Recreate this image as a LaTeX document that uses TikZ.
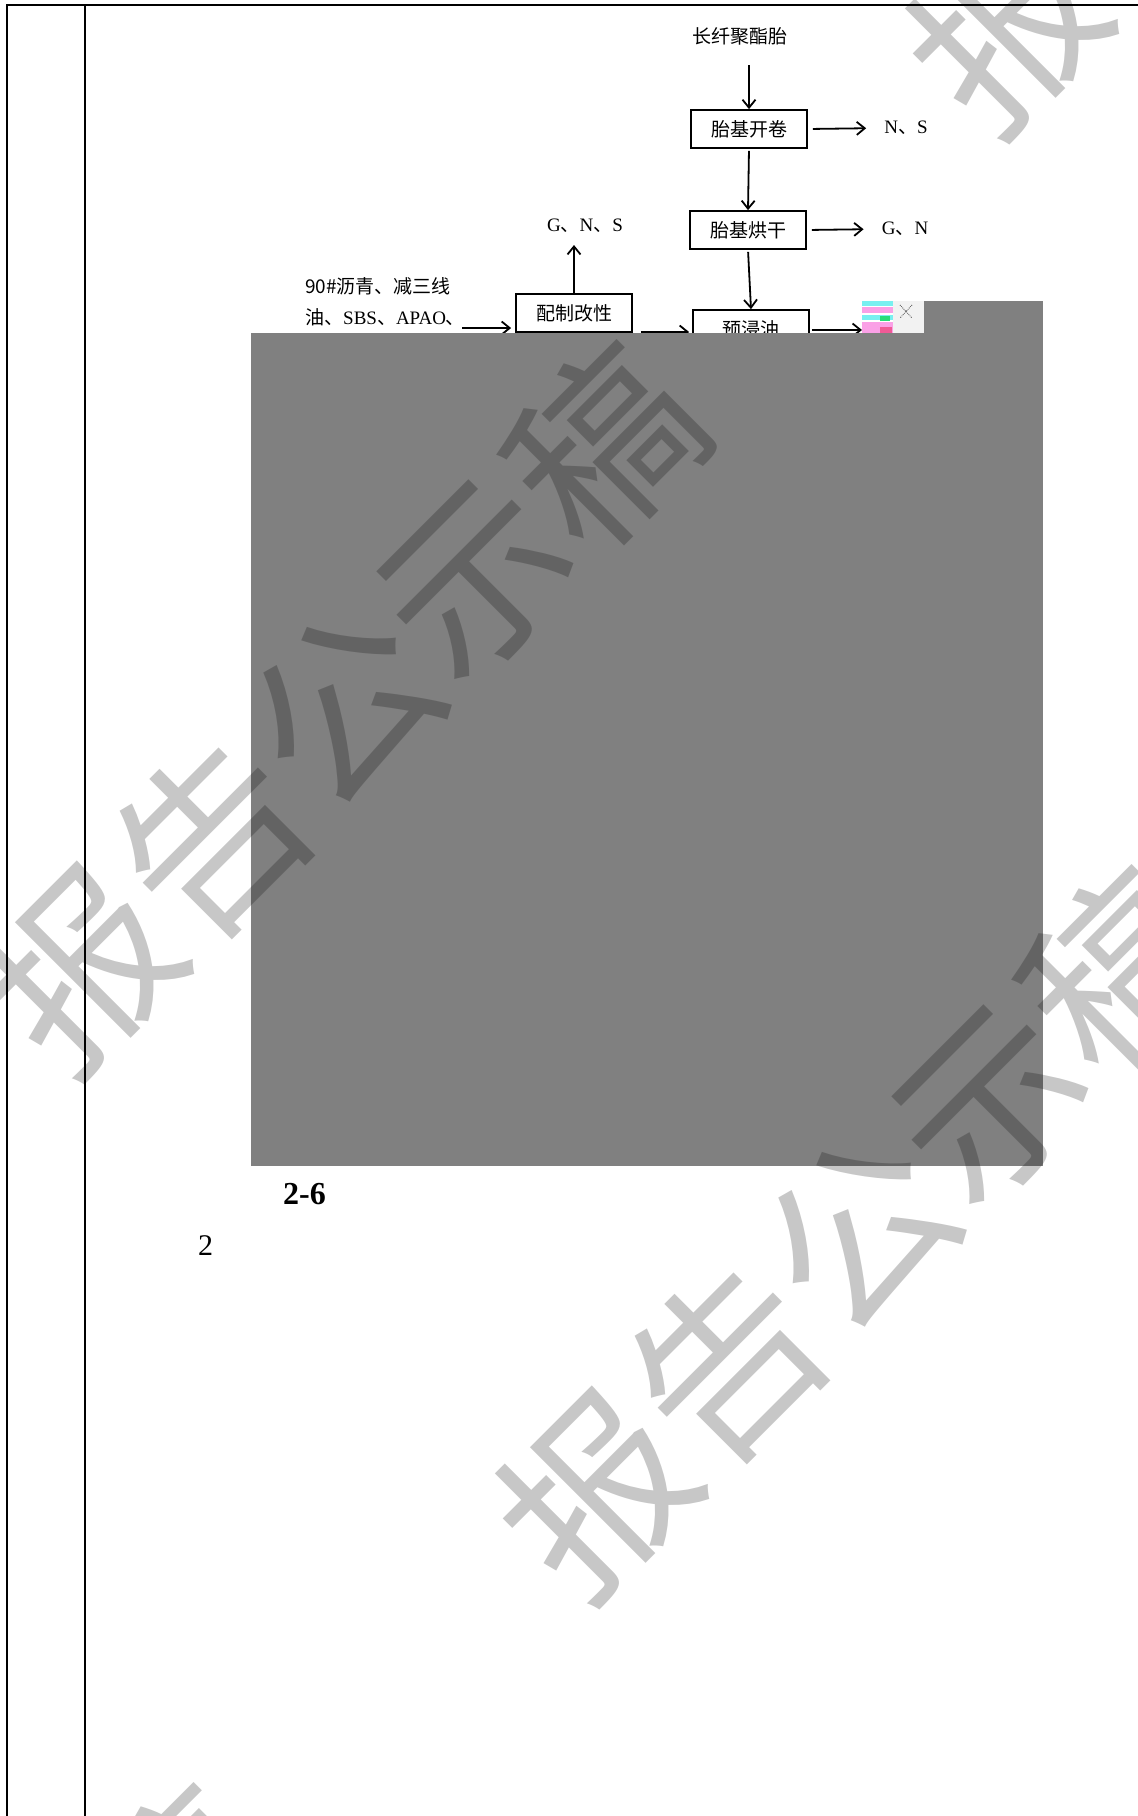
\documentclass[tikz,border=0pt]{standalone}
\usepackage{fontspec}
\setmainfont{Liberation Serif}
\newfontfamily\cjk{Noto Sans CJK SC}
\usetikzlibrary{arrows.meta}
\definecolor{pagegray}{RGB}{128,128,128}
\definecolor{glcyan}{RGB}{120,240,240}
\definecolor{glpink}{RGB}{250,160,230}
\definecolor{glgreen}{RGB}{40,220,120}
\definecolor{glred}{RGB}{240,90,150}
\begin{document}
\begin{tikzpicture}[x=1pt,y=-1pt,
  box/.style={draw, line width=1.8pt, minimum width=116pt, minimum height=38pt, inner sep=0pt, font=\cjk\fontsize{19}{19}\selectfont},
  lbl/.style={inner sep=0pt, font=\fontsize{19}{19}\selectfont},
  arr/.style={line width=1.8pt, -{Straight Barb[length=8pt,width=13pt,line width=1.8pt]}},
  wm/.style={rotate=45, text=black, text opacity=0.22, inner sep=0pt, font=\cjk\fontsize{185}{185}\selectfont},
]
\useasboundingbox (0,0) rectangle (1138,1816);
\fill[white] (0,0) rectangle (1138,1816);

% table frame
\draw[line width=2.5pt] (7,1816) -- (7,5) -- (1138,5);
\draw[line width=1.3pt] (85,5) -- (85,1816);

% flowchart
\node[lbl, font=\cjk\fontsize{19}{19}\selectfont] (src) at (740,36) {长纤聚酯胎};
\node[box] (b1) at (749,129) {胎基开卷};
\node[box] (b2) at (748,230) {胎基烘干};
\node[box] (b3) at (751,329) {预浸油};
\node[box] (b4) at (574,313) {配制改性};
\node[lbl] (o1) at (906,128) {N{\cjk 、}S};
\node[lbl] (o2) at (905,229) {G{\cjk 、}N};
\node[lbl] (o4) at (585,226) {G{\cjk 、}N{\cjk 、}S};
\node[lbl, anchor=west] (raw1) at (305,286) {{\cjk 90\#沥青、减三线}};
\node[lbl, anchor=west] (raw2) at (305,317) {{\cjk 油、}SBS{\cjk 、}APAO{\cjk 、}};

\coordinate (rawend) at (462,328);
\coordinate (m1) at (0,332);
\coordinate (m2) at (0,330);
\coordinate (glitch) at (862,330);

\draw[arr, shorten <=20pt] (src.south -| b1.north) -- (b1.north);
\draw[arr, shorten <=2pt] (b1.south) -- (b2.north);
\draw[arr, shorten <=2pt] (b2.south) -- (b3.north);
\draw[arr, shorten <=5pt, shorten >=18pt] (b1.east) -- (o1.west);
\draw[arr, shorten <=5pt, shorten >=18pt] (b2.east) -- (o2.west);
\draw[arr, shorten >=12pt] (b4.north) -- (o4.south -| b4.north);
\draw[arr, shorten >=4pt] (rawend) -- (b4.west |- rawend);
\draw[arr, shorten <=8pt, shorten >=3pt] (b4.east |- m1) -- (b3.west |- m1);
\draw[arr, shorten <=2pt] (b3.east |- m2) -- (glitch);

% colour artefact beside the last arrow
\fill[glcyan] (862,301) rectangle (893,306);
\fill[glpink] (862,307) rectangle (893,313);
\fill[glcyan] (862,315) rectangle (893,320);
\fill[glgreen] (880,316) rectangle (890,321);
\fill[glpink] (862,322) rectangle (893,333);
\fill[glred] (880,327) rectangle (892,333);
\fill[black!5] (893,301) rectangle (924,333);
\draw[black!70, line width=0.8pt, densely dotted] (900,305) -- (912,318) (912,305) -- (900,318);

% grey mask
\fill[pagegray] (251,333) rectangle (1043,1166);
\fill[pagegray] (924,301) rectangle (1043,333);

% caption and text
\node[font=\bfseries\fontsize{32}{32}\selectfont, anchor=base west, inner sep=0pt] (fig) at (283,1204) {2-6};
\node[font=\fontsize{30}{30}\selectfont, anchor=base west, inner sep=0pt] (num) at (198,1255) {2};

% watermarks
\node[wm] (wm1) at (343,707) {报告公示稿};
\node[wm] (wm2) at (858,1232) {报告公示稿};
\node[wm] (wm3) at (1268,-233) {报告公示稿};
\node[wm] (wm4) at (-80,2150) {报告公示稿};
\end{tikzpicture}
\end{document}
